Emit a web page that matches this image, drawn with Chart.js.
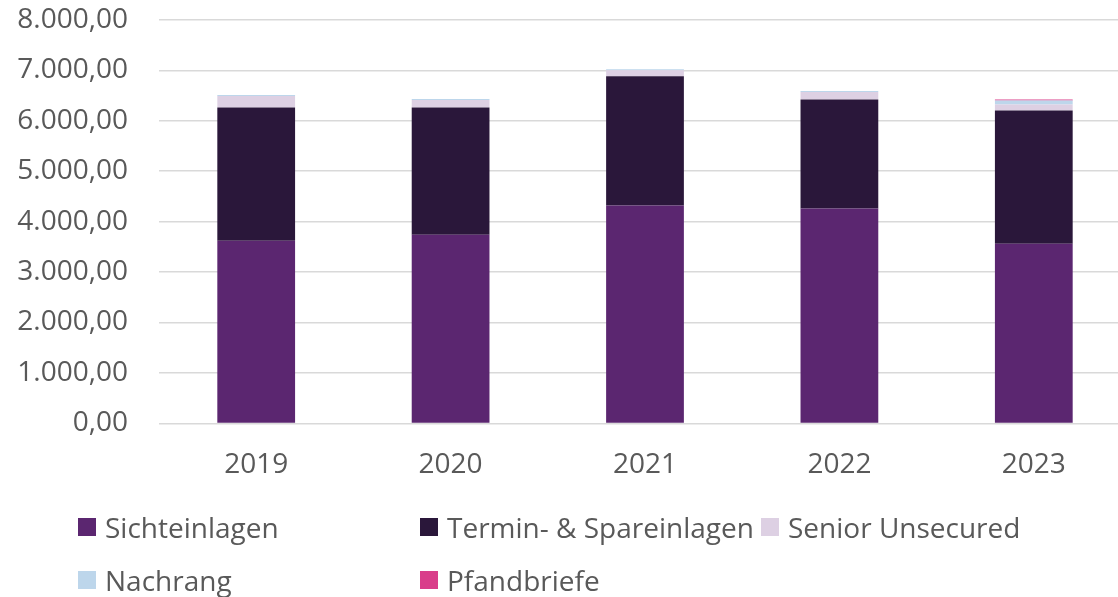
<!DOCTYPE html>
<html>
<head>
<meta charset="utf-8">
<script src="https://cdn.jsdelivr.net/npm/chart.js@4.4.1/dist/chart.umd.min.js"></script>
<style>
  html, body { margin: 0; padding: 0; background: #fff; overflow: hidden; }
  #wrap { position: relative; width: 1118px; height: 597px; overflow: hidden; }
  #barChart { position: absolute; left: 0; top: -28px; }
  #legend { position: absolute; left: 0; top: 0; width: 1118px; font-family: 'Open Sans', sans-serif; font-size: 28px; color: #595959; }
  .item { position: absolute; white-space: nowrap; line-height: 34px; }
  .box { position: absolute; width: 18px; height: 18px; left: 0; top: 8px; }
  .label { position: absolute; left: 27px; top: 0; }
</style>
</head>
<body>
<div id="wrap">
  <canvas id="barChart" width="1136" height="625"></canvas>
  <div id="legend"></div>
</div>
<script>
const jahre = ['2019', '2020', '2021', '2022', '2023'];
const sichteinlagen = [3620, 3740, 4320, 4260, 3560];
const terminSpareinlagen = [2640, 2520, 2560, 2160, 2640];
const seniorUnsecured = [230, 150, 120, 150, 120];
const nachrang = [20, 20, 20, 20, 80];
const pfandbriefe = [0, 0, 0, 0, 20];

const serien = [
  { label: 'Sichteinlagen', data: sichteinlagen, color: '#5B2670' },
  { label: 'Termin- & Spareinlagen', data: terminSpareinlagen, color: '#2A173A' },
  { label: 'Senior Unsecured', data: seniorUnsecured, color: '#DDD0E3' },
  { label: 'Nachrang', data: nachrang, color: '#BDD6EB' },
  { label: 'Pfandbriefe', data: pfandbriefe, color: '#D93E8A' }
];

const fmt = new Intl.NumberFormat('de-DE', { minimumFractionDigits: 2, maximumFractionDigits: 2 });

document.addEventListener('DOMContentLoaded', () => {
  const ctx = document.getElementById('barChart').getContext('2d');

  const barChart = new Chart(ctx, {
    type: 'bar',
    data: {
      labels: jahre,
      datasets: serien.map(s => ({
        label: s.label,
        data: s.data,
        backgroundColor: s.color,
        borderWidth: 0,
        barPercentage: 0.4,
        categoryPercentage: 1.0
      }))
    },
    options: {
      responsive: false,
      animation: false,
      layout: { padding: { left: 17, top: 0, right: 5, bottom: 90 } },
      plugins: {
        legend: { display: false },
        tooltip: { enabled: false }
      },
      scales: {
        x: {
          stacked: true,
          grid: { display: false, drawTicks: false },
          border: { display: false },
          ticks: {
            color: '#595959',
            font: { family: 'Open Sans', size: 28 },
            padding: 25
          }
        },
        y: {
          stacked: true,
          min: 0,
          max: 8000,
          grid: { color: '#D9D9D9', lineWidth: 1.5, drawTicks: false },
          border: { display: false },
          afterFit: scale => { scale.width = 142; },
          ticks: {
            stepSize: 1000,
            color: '#595959',
            font: { family: 'Open Sans', size: 28 },
            padding: 31,
            callback: v => fmt.format(v)
          }
        }
      }
    }
  });

  // Legende wie im Original: feste Spalten, zwei Zeilen
  const legend = document.getElementById('legend');
  const spalten = [78, 420, 761];
  const zeilen = [510, 563];
  serien.forEach((s, i) => {
    const item = document.createElement('div');
    item.className = 'item';
    item.style.left = spalten[i % 3] + 'px';
    item.style.top = zeilen[Math.floor(i / 3)] + 'px';
    const box = document.createElement('span');
    box.className = 'box';
    box.style.background = s.color;
    const label = document.createElement('span');
    label.className = 'label';
    label.textContent = s.label;
    item.appendChild(box);
    item.appendChild(label);
    legend.appendChild(item);
  });
});
</script>
</body>
</html>
